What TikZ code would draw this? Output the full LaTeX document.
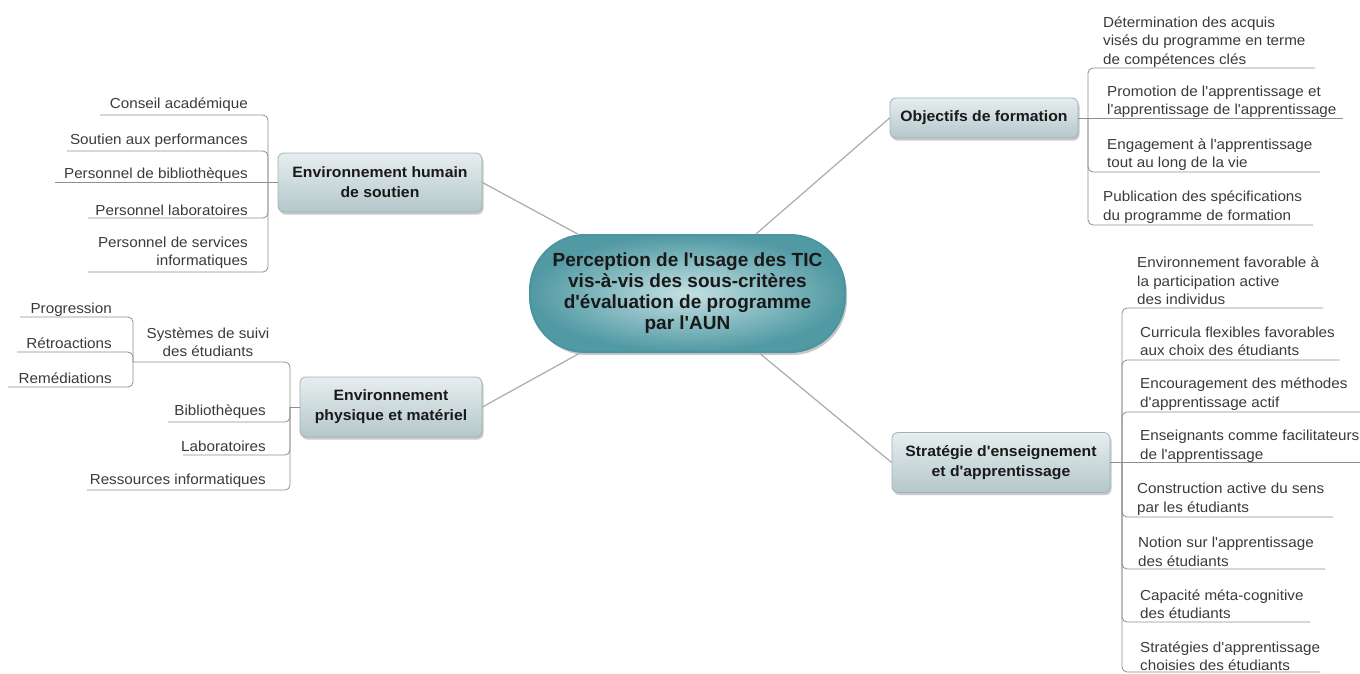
\documentclass[tikz,border=0pt]{standalone}
\usepackage{fontspec}
\setmainfont{Liberation Sans}
\newfontfamily\leaffont[FakeStretch=1.05]{Liberation Sans}
\newfontfamily\plainfont{Liberation Sans}
\usetikzlibrary{shadows}
\definecolor{linec}{HTML}{8E8E8E}
\definecolor{spoke}{HTML}{ABABAB}
\definecolor{txt}{HTML}{3A3A3A}
\definecolor{boxtop}{HTML}{E6EEEF}
\definecolor{boxbot}{HTML}{B4C7CA}
\definecolor{boxline}{HTML}{9FB2B5}
\definecolor{cin}{HTML}{C3E1E3}
\definecolor{cout}{HTML}{5199A3}
\definecolor{cline}{HTML}{4A959F}
\begin{document}
\begin{tikzpicture}[x=1pt,y=-1pt,
  leaf/.style={font=\leaffont\fontsize{14.5}{18.5}\selectfont, text=txt, inner sep=0pt},
  leafL/.style={leaf, anchor=east, align=right},
  leafR/.style={leaf, anchor=west, align=left},
  branch/.style={draw=linec, line width=0.8pt, rounded corners=5pt},
  spokeline/.style={draw=spoke, line width=1.2pt},
  topic/.style={rounded corners=6pt, draw=boxline, line width=0.8pt, top color=boxtop, bottom color=boxbot,
    font=\leaffont\fontsize{15}{20}\selectfont\bfseries, text=black!90, align=center, inner sep=0pt,
    drop shadow={shadow xshift=1.5pt, shadow yshift=-2.5pt, opacity=0.3, fill=black!70}},
  central/.style={rounded corners=55pt, draw=cline, line width=2pt, inner color=cin, outer color=cout,
    font=\plainfont\fontsize{19}{21}\selectfont\bfseries, text=black!90, align=center, inner sep=0pt,
    drop shadow={shadow xshift=2pt, shadow yshift=-3pt, opacity=0.3, fill=black!70}}
]
\useasboundingbox (0,0) rectangle (1360,673);

% central node
\node[central, minimum width=315pt, minimum height=117pt] (c) at (687.5,293.5)
  {Perception de l'usage des TIC\\vis-à-vis des sous-critères\\d'évaluation de programme\\par l'AUN};

% main topics
\node[topic, minimum width=204pt, minimum height=59pt] (hum) at (380,182.5) {Environnement humain\\de soutien};
\node[topic, minimum width=182pt, minimum height=60pt] (phy) at (391,407) {Environnement\\physique et matériel};
\node[topic, minimum width=188pt, minimum height=40pt] (obj) at (984,118) {Objectifs de formation};
\node[topic, minimum width=218pt, minimum height=60pt] (str) at (1001,462.5) {Stratégie d'enseignement\\et d'apprentissage};

% spokes
\draw[spokeline] (c) -- (hum.east);
\draw[spokeline] (c) -- (phy.east);
\draw[spokeline] (c) -- (obj.west);
\draw[spokeline] (c) -- (str.west);

% ---- Environnement humain de soutien
\node[leafL] (h1) at (248,105) {Conseil académique};
\node[leafL] (h2) at (248,141) {Soutien aux performances};
\node[leafL] (h3) at (248,175) {Personnel de bibliothèques};
\node[leafL] (h4) at (248,210) {Personnel laboratoires};
\node[leafL] (h5) at (248,252.5) {Personnel de services\\informatiques};
\coordinate (jh) at (268,182.5);
\coordinate (h1u) at (100,115);
\coordinate (h2u) at (67,151);
\coordinate (h3u) at (55,182.5);
\coordinate (h4u) at (88,218);
\coordinate (h5u) at (88,272);
\draw[branch] (hum.west) -- (jh);
\draw[branch] (jh) |- (h1u);
\draw[branch] (jh) |- (h2u);
\draw[branch] (jh) -- (h3u);
\draw[branch] (jh) |- (h4u);
\draw[branch] (jh) |- (h5u);

% ---- Environnement physique et matériel
\node[leaf, align=center] (p1) at (208,342) {Systèmes de suivi\\des étudiants};
\node[leafL] (p2) at (266,412) {Bibliothèques};
\node[leafL] (p3) at (266,446) {Laboratoires};
\node[leafL] (p4) at (266,481) {Ressources informatiques};
\coordinate (jp) at (290,407);
\coordinate (p1u) at (133,362);
\coordinate (p2u) at (168,422);
\coordinate (p3u) at (183,455);
\coordinate (p4u) at (87,490);
\draw[branch] (phy.west) -- (jp);
\draw[branch] (jp) |- (p1u);
\draw[branch] (jp) |- (p2u);
\draw[branch] (jp) |- (p3u);
\draw[branch] (jp) |- (p4u);

\node[leafL] (g1) at (112,310) {Progression};
\node[leafL] (g2) at (112,343) {Rétroactions};
\node[leafL] (g3) at (112,378) {Remédiations};
\coordinate (g1u) at (20,317);
\coordinate (g2u) at (17,352);
\coordinate (g3u) at (8,387);
\draw[branch] (p1u) |- (g1u);
\draw[branch] (p1u) |- (g2u);
\draw[branch] (p1u) |- (g3u);

% ---- Objectifs de formation
\node[leafR] (o1) at (1103,42) {Détermination des acquis\\visés du programme en terme\\de compétences clés};
\node[leafR] (o2) at (1107,101.5) {Promotion de l'apprentissage et\\l'apprentissage de l'apprentissage};
\node[leafR] (o3) at (1107,154.5) {Engagement à l'apprentissage\\tout au long de la vie};
\node[leafR] (o4) at (1103,207) {Publication des spécifications\\du programme de formation};
\coordinate (jo) at (1088,118);
\coordinate (o1u) at (1315,68);
\coordinate (o2u) at (1343,118);
\coordinate (o3u) at (1320,172);
\coordinate (o4u) at (1313,225);
\draw[branch] (obj.east) -- (jo);
\draw[branch] (jo) |- (o1u);
\draw[branch] (jo) -- (o2u);
\draw[branch] (jo) |- (o3u);
\draw[branch] (jo) |- (o4u);

% ---- Stratégie d'enseignement et d'apprentissage
\node[leafR] (s1) at (1137,281) {Environnement favorable à\\la participation active\\des individus};
\node[leafR] (s2) at (1140,341.5) {Curricula flexibles favorables\\aux choix des étudiants};
\node[leafR] (s3) at (1140,394) {Encouragement des méthodes\\d'apprentissage actif};
\node[leafR] (s4) at (1140,446) {Enseignants comme facilitateurs\\de l'apprentissage};
\node[leafR] (s5) at (1137,499) {Construction active du sens\\par les étudiants};
\node[leafR] (s6) at (1138,552) {Notion sur l'apprentissage\\des étudiants};
\node[leafR] (s7) at (1140,604) {Capacité méta-cognitive\\des étudiants};
\node[leafR] (s8) at (1140,656) {Stratégies d'apprentissage\\choisies des étudiants};
\coordinate (js) at (1122,462.5);
\coordinate (s1u) at (1323,308);
\coordinate (s2u) at (1340,360);
\coordinate (s3u) at (1360,412);
\coordinate (s4u) at (1360,462.5);
\coordinate (s5u) at (1333,517);
\coordinate (s6u) at (1325,569);
\coordinate (s7u) at (1310,622);
\coordinate (s8u) at (1320,672);
\draw[branch] (str.east) -- (js);
\draw[branch] (js) |- (s1u);
\draw[branch] (js) |- (s2u);
\draw[branch] (js) |- (s3u);
\draw[branch] (js) -- (s4u);
\draw[branch] (js) |- (s5u);
\draw[branch] (js) |- (s6u);
\draw[branch] (js) |- (s7u);
\draw[branch] (js) |- (s8u);
\end{tikzpicture}
\end{document}
